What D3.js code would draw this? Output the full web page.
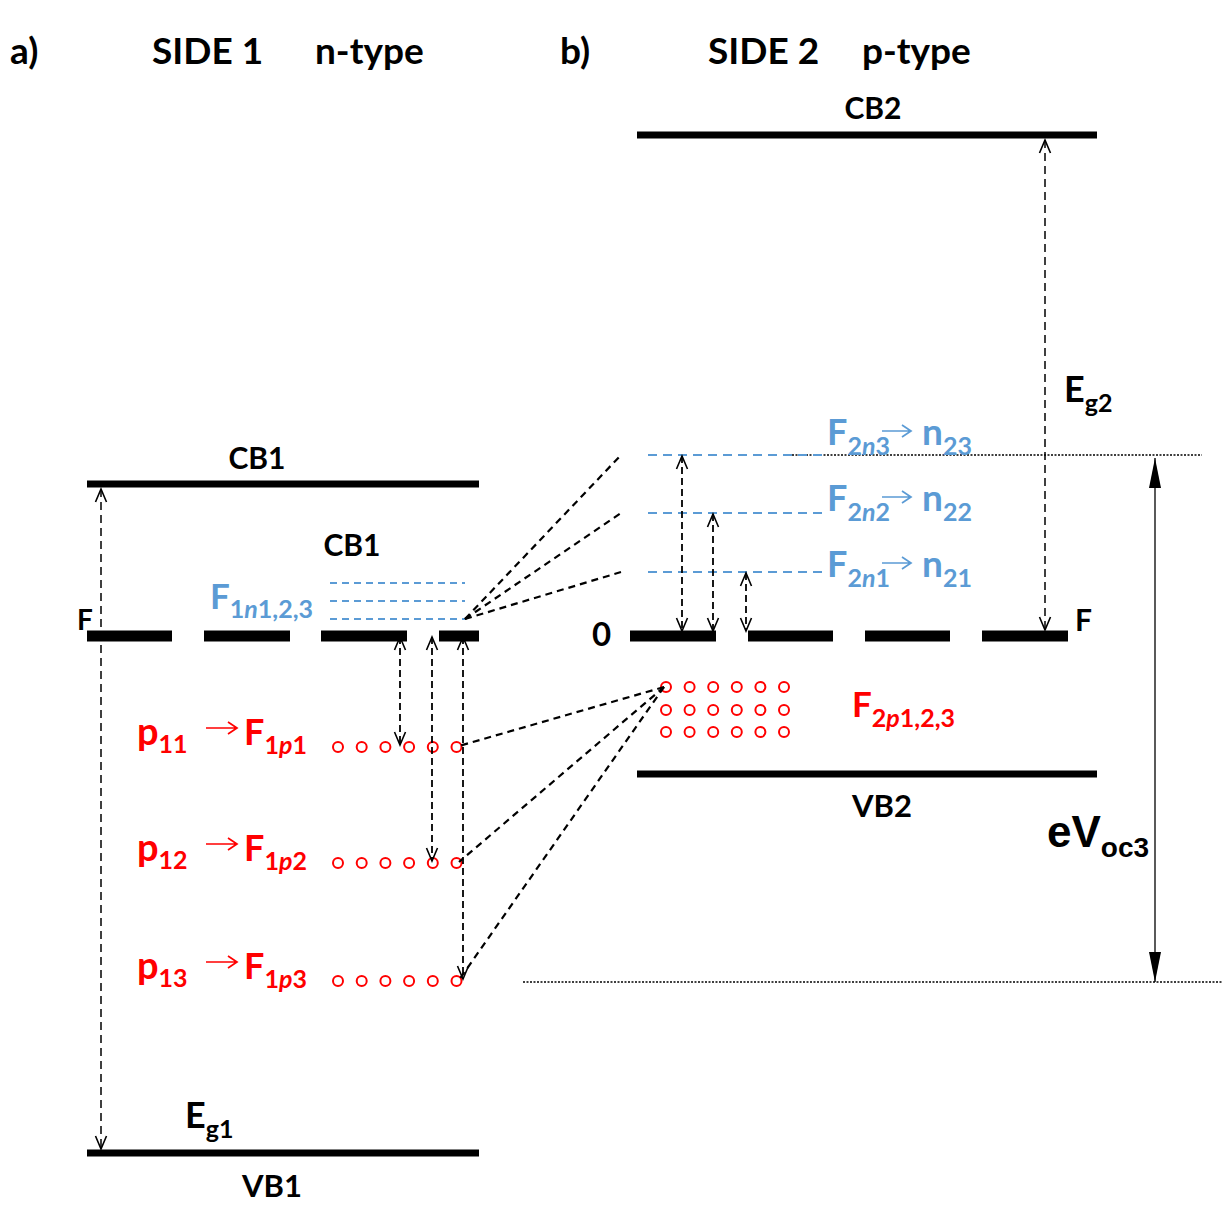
<!DOCTYPE html>
<html>
<head>
<meta charset="utf-8">
<script src="https://cdn.jsdelivr.net/npm/d3@7"></script>
<style>
  body { margin: 0; background: #fff; }
  text { font-family: Lato, "Open Sans", sans-serif; font-weight: bold; }
</style>
</head>
<body>
<div id="chart"></div>
<script>
// Energy levels, arbitrary units, Fermi level = 0
const side1Bands = [{ name: "CB1", e: 1.52 }, { name: "VB1", e: -5.17 }];
const side2Bands = [{ name: "CB2", e: 5.01 }, { name: "VB2", e: -1.38 }];
const side1NLevels = [0.53, 0.35, 0.17];          // F1n1,2,3
const side1PLevels = [-1.11, -2.27, -3.45];       // p11, p12, p13
const side1PNames = ["11", "12", "13"];
const side2NLevels = [1.81, 1.23, 0.64];          // n23, n22, n21
const side2NNames = ["3", "2", "1"];
const side2PLevels = [-0.51, -0.74, -0.96];       // F2p1,2,3
const holesPerRow = 6;
const vocLevels = [1.81, -3.46];                  // eVoc3 span

const W = 1227, H = 1213;
const blue = "#5b9bd5", red = "#ff0000";

const svg = d3.select("#chart").append("svg")
    .attr("width", W).attr("height", H)
    .style("background", "#fff");

const x = d3.scaleLinear().domain([0, W]).range([0, W]);
const y = d3.scaleLinear().domain([6.36, -5.77]).range([0, H]);

// arrow markers
const defs = svg.append("defs");
defs.append("marker").attr("id", "open")
    .attr("viewBox", "-16 -8 18 16").attr("markerWidth", 18).attr("markerHeight", 16)
    .attr("markerUnits", "userSpaceOnUse").attr("refX", 0).attr("refY", 0)
    .attr("orient", "auto-start-reverse")
    .append("path").attr("d", "M-13,-5.5 L0,0 L-13,5.5")
    .attr("fill", "none").attr("stroke", "#000").attr("stroke-width", 1.6);
defs.append("marker").attr("id", "solid")
    .attr("viewBox", "-32 -8 34 16").attr("markerWidth", 34).attr("markerHeight", 16)
    .attr("markerUnits", "userSpaceOnUse").attr("refX", 0).attr("refY", 0)
    .attr("orient", "auto-start-reverse")
    .append("path").attr("d", "M-30,-6 L0,0 L-30,6 Z").attr("fill", "#000");

function line(g, x1, y1, x2, y2) {
    return g.append("line").attr("x1", x(x1)).attr("y1", y1).attr("x2", x(x2)).attr("y2", y2);
}

// text with subscripts: parts = [[text, size, dy, italic]]
function label(g, x0, y0, parts, color, family) {
    const t = g.append("text").attr("x", x(x0)).attr("y", y0).attr("fill", color || "#000");
    if (family) t.style("font-family", family);
    let prev = 0;
    parts.forEach(p => {
        const s = t.append("tspan").text(p[0]).attr("font-size", p[1])
            .attr("dy", (p[2] || 0) - prev);
        if (p[3]) s.attr("font-style", "italic");
        prev = p[2] || 0;
    });
    return t;
}

function smallArrow(g, x1, x2, yy, color) {
    g.append("path")
        .attr("d", `M${x(x1)},${yy} L${x(x2)},${yy} M${x(x2) - 9},${yy - 6} L${x(x2)},${yy} L${x(x2) - 9},${yy + 6}`)
        .attr("fill", "none").attr("stroke", color).attr("stroke-width", 1.7);
}

const g = svg.append("g");

// titles
[["a)", 10], ["SIDE 1", 152], ["n-type", 315], ["b)", 560], ["SIDE 2", 708], ["p-type", 862]]
    .forEach(d => label(g, d[1], 64, [[d[0], 37]]));

// reference dotted lines for eVoc3
g.append("line").attr("x1", x(792)).attr("x2", x(1202)).attr("y1", y(vocLevels[0])).attr("y2", y(vocLevels[0]))
    .attr("stroke", "#000").attr("stroke-width", 1.4).attr("stroke-dasharray", "2,1.5");
g.append("line").attr("x1", x(523)).attr("x2", x(1222)).attr("y1", y(vocLevels[1])).attr("y2", y(vocLevels[1]))
    .attr("stroke", "#000").attr("stroke-width", 1.4).attr("stroke-dasharray", "2,1.5");

// band edges
g.selectAll(".band1").data(side1Bands).join("line")
    .attr("x1", x(87)).attr("x2", x(479)).attr("y1", d => y(d.e)).attr("y2", d => y(d.e))
    .attr("stroke", "#000").attr("stroke-width", 7);
g.selectAll(".band2").data(side2Bands).join("line")
    .attr("x1", x(637)).attr("x2", x(1097)).attr("y1", d => y(d.e)).attr("y2", d => y(d.e))
    .attr("stroke", "#000").attr("stroke-width", 7);

label(g, 257, y(1.52) - 15, [["CB1", 30]]).attr("text-anchor", "middle");
label(g, 272, y(-5.17) + 44, [["VB1", 31]]).attr("text-anchor", "middle");
label(g, 873, y(5.01) - 16, [["CB2", 30]]).attr("text-anchor", "middle");
label(g, 882, y(-1.38) + 43, [["VB2", 31]]).attr("text-anchor", "middle");
label(g, 352, 556, [["CB1", 30]]).attr("text-anchor", "middle");

// Fermi level (thick dashed)
const fermi1 = [[87, 172], [204, 290], [321, 407], [439, 479]];
const fermi2 = [[630, 716], [748, 833], [865, 950], [982, 1068]];
g.selectAll(".fermi").data(fermi1.concat(fermi2)).join("line")
    .attr("x1", d => x(d[0])).attr("x2", d => x(d[1]))
    .attr("y1", y(0)).attr("y2", y(0))
    .attr("stroke", "#000").attr("stroke-width", 11);
label(g, 77, 630, [["F", 28]]);
label(g, 1075, 631, [["F", 30]]);
label(g, 592, 646, [["0", 33]]);

// blue quasi-Fermi levels
g.selectAll(".n1").data(side1NLevels).join("line")
    .attr("x1", x(330)).attr("x2", x(465)).attr("y1", d => y(d)).attr("y2", d => y(d))
    .attr("stroke", blue).attr("stroke-width", 1.8).attr("stroke-dasharray", "7,5");
g.selectAll(".n2").data(side2NLevels).join("line")
    .attr("x1", x(648)).attr("x2", x(823)).attr("y1", d => y(d)).attr("y2", d => y(d))
    .attr("stroke", blue).attr("stroke-width", 1.8).attr("stroke-dasharray", "9,6");

label(g, 210, 609, [["F", 35], ["1", 25, 9], ["n", 25, 9, true], ["1,2,3", 25, 9]], blue);

side2NLevels.forEach((e, i) => {
    const by = 445 + i * 66;
    label(g, 827, by, [["F", 36], ["2", 25, 10], ["n", 25, 10, true], [side2NNames[i], 25, 10]], blue);
    smallArrow(g, 882, 911, by - 14, blue);
    label(g, 922, by, [["n", 37], ["2" + side2NNames[i], 25, 10]], blue);
});

// holes
side1PLevels.forEach((e, i) => {
    g.selectAll(".h1r" + i).data(d3.range(holesPerRow)).join("circle")
        .attr("cx", k => x(338 + k * 23.7)).attr("cy", y(e)).attr("r", 5)
        .attr("fill", "none").attr("stroke", red).attr("stroke-width", 2);
    const by = y(e) - 2;
    label(g, 137, by, [["p", 38], [side1PNames[i], 25, 8]], red);
    smallArrow(g, 206, 237, y(e) - 19, red);
    label(g, 244, by, [["F", 36], ["1", 25, 9], ["p", 25, 9, true], [String(i + 1), 25, 9]], red);
});
side2PLevels.forEach((e, i) => {
    g.selectAll(".h2r" + i).data(d3.range(holesPerRow)).join("circle")
        .attr("cx", k => x(666 + k * 23.6)).attr("cy", y(e)).attr("r", 5)
        .attr("fill", "none").attr("stroke", red).attr("stroke-width", 2);
});
label(g, 852, 717, [["F", 35], ["2", 25, 10], ["p", 25, 10, true], ["1,2,3", 25, 10]], red);

// fan of dashed connector lines
const fan = g.append("g").attr("stroke", "#000").attr("stroke-width", 2.2).attr("stroke-dasharray", "7,5");
side2NLevels.forEach(e => line(fan, 465, y(side1NLevels[2]), 621, y(e)));
side1PLevels.forEach(e => line(fan, 664, y(side2PLevels[0]), 459, y(e) - 1));

// double-headed dashed transitions
const arr = g.append("g").attr("stroke", "#000").attr("stroke-width", 1.8).attr("stroke-dasharray", "7,4");
[400, 432, 463].forEach((xx, i) =>
    line(arr, xx, y(0) + 1, xx, y(side1PLevels[i]) - 2)
        .attr("marker-start", "url(#open)").attr("marker-end", "url(#open)"));
[682, 713, 746].forEach((xx, i) =>
    line(arr, xx, y(side2NLevels[i]) + 1, xx, y(0) - 5)
        .attr("marker-start", "url(#open)").attr("marker-end", "url(#open)"));

// band gaps
const gap = g.append("g").attr("stroke", "#000").attr("stroke-width", 1.5).attr("stroke-dasharray", "8,5");
line(gap, 101, y(1.52) + 5, 101, y(-5.17) - 4).attr("marker-start", "url(#open)").attr("marker-end", "url(#open)");
line(gap, 1045, y(5.01) + 5, 1045, y(0) - 6).attr("marker-start", "url(#open)").attr("marker-end", "url(#open)");
label(g, 185, 1128, [["E", 36], ["g1", 25, 10]]);
label(g, 1064, 402, [["E", 36], ["g2", 25, 10]]);

// open-circuit voltage arrow
line(g, 1155, y(vocLevels[0]) + 3, 1155, y(vocLevels[1]))
    .attr("stroke", "#000").attr("stroke-width", 1.3)
    .attr("marker-start", "url(#solid)").attr("marker-end", "url(#solid)");
label(g, 1047, 847, [["eV", 44], ["oc3", 28, 10]], "#000", "'Liberation Sans', Arial, sans-serif");
</script>
</body>
</html>
